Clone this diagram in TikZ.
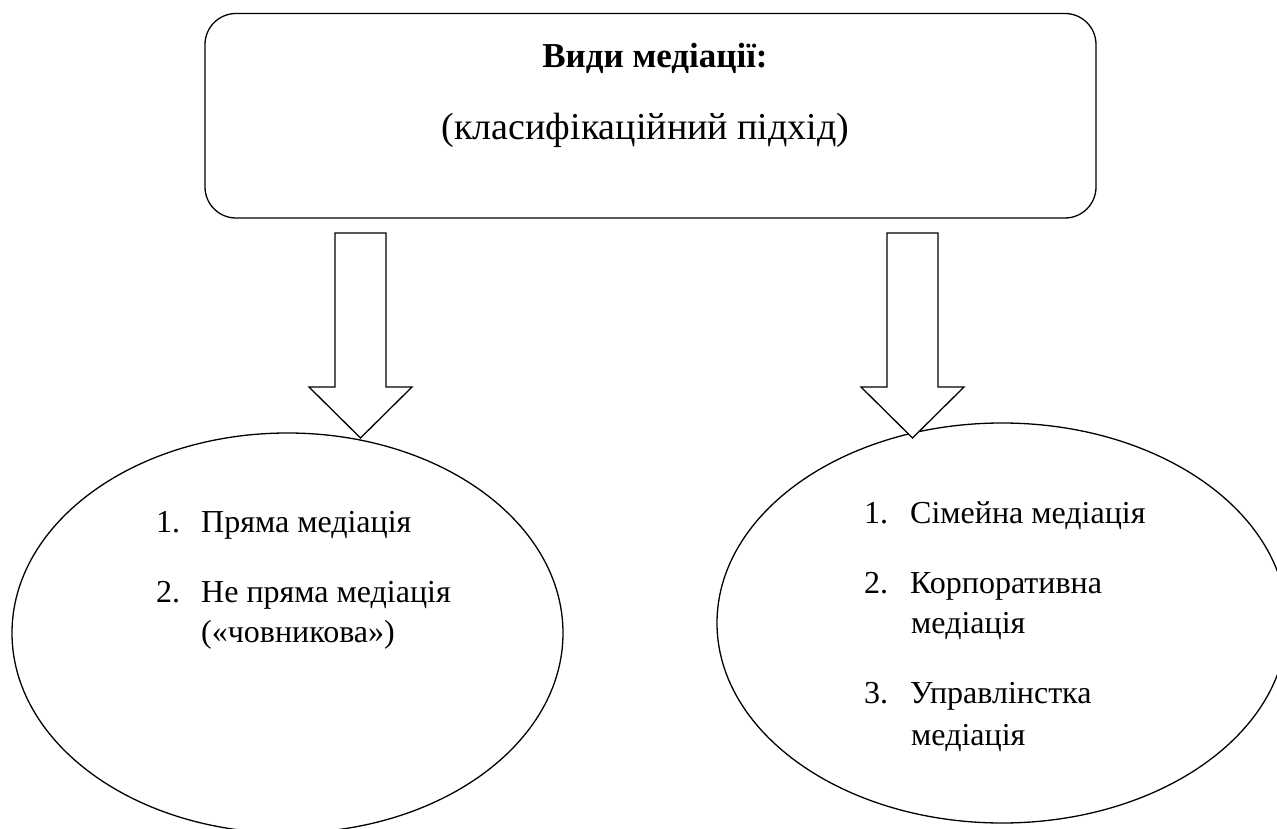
\documentclass[tikz,border=0pt]{standalone}
\usepackage{fontspec}
\setmainfont{Liberation Serif}
\usetikzlibrary{shapes.geometric}
\tikzset{
  outline/.style={draw=black, line width=1.3pt},
  oval/.style={outline, ellipse, inner sep=0pt},
  topbox/.style={outline, rounded corners=31pt, inner sep=0pt},
  blockarrow/.style={outline, fill=white, line join=miter},
  bodytext/.style={inner sep=0pt, anchor=base west, font=\fontsize{32}{38}\selectfont},
  headtext/.style={inner sep=0pt, anchor=base, font=\fontsize{38}{44}\selectfont},
}
\begin{document}
\begin{tikzpicture}[x=1pt, y=-1pt]
\useasboundingbox (0,0) rectangle (1277,829);
\clip (0,0) rectangle (1277,829);
% top box
\node[topbox, minimum width=891pt, minimum height=204.5pt] (top) at (650.5,115.75) {};
\node[headtext, font=\fontsize{35}{42}\selectfont\bfseries] (title) at (655,68) {Види медіації:};
\node[headtext] (subtitle) at (645.5,140) {(класифікаційний підхід)};
% ellipses
\node[oval, minimum width=551pt, minimum height=400pt] (left) at (287.5,633) {};
\node[oval, minimum width=570pt, minimum height=400pt] (right) at (1002,623) {};
% block arrows
\coordinate (la) at (360.5,233);
\coordinate (ra) at (912.5,233);
\draw[blockarrow] ([xshift=-25.5pt]la) -- ([xshift=25.5pt]la) -- ([xshift=25.5pt,yshift=-154pt]la)
  -- ([xshift=51.5pt,yshift=-154pt]la) -- ([yshift=-205pt]la) -- ([xshift=-51.5pt,yshift=-154pt]la)
  -- ([xshift=-25.5pt,yshift=-154pt]la) -- cycle;
\draw[blockarrow] ([xshift=-25.5pt]ra) -- ([xshift=25.5pt]ra) -- ([xshift=25.5pt,yshift=-154pt]ra)
  -- ([xshift=51.5pt,yshift=-154pt]ra) -- ([yshift=-205pt]ra) -- ([xshift=-51.5pt,yshift=-154pt]ra)
  -- ([xshift=-25.5pt,yshift=-154pt]ra) -- cycle;
% left list
\node[bodytext] (l1n) at (156,532) {1.};
\node[bodytext] (l1) at (201,532) {Пряма медіація};
\node[bodytext] (l2n) at (156,602) {2.};
\node[bodytext] (l2) at (201,602) {Не пряма медіація};
\node[bodytext] (l2b) at (201,642) {(«човникова»)};
% right list
\node[bodytext] (r1n) at (864,523) {1.};
\node[bodytext] (r1) at (910,523) {Сімейна медіація};
\node[bodytext] (r2n) at (864,593) {2.};
\node[bodytext] (r2) at (910,593) {Корпоративна};
\node[bodytext] (r2b) at (911,633) {медіація};
\node[bodytext] (r3n) at (864,703) {3.};
\node[bodytext] (r3) at (910,703) {Управлінстка};
\node[bodytext] (r3b) at (911,745) {медіація};
\end{tikzpicture}
\end{document}
